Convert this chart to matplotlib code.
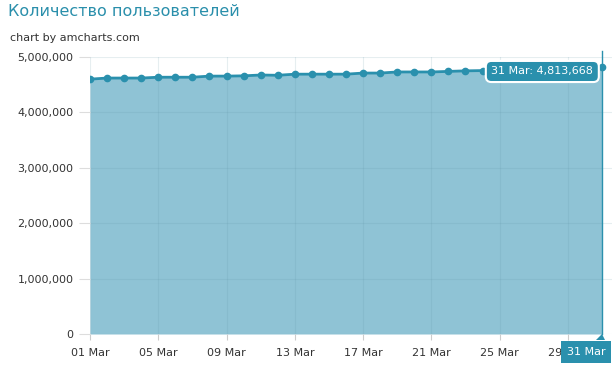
import numpy as np
import pandas as pd
import matplotlib
matplotlib.use("Agg")
import matplotlib.pyplot as plt
import matplotlib.dates as mdates
from matplotlib.patches import Polygon
from matplotlib.ticker import FuncFormatter, MultipleLocator

TITLE = "Количество пользователей"
CREDIT = "chart by amcharts.com"
dates = pd.date_range("2014-03-01", "2014-03-31", freq="D")
users = [4600000, 4620000, 4620000, 4620000, 4635000, 4635000, 4635000, 4655000,
         4655000, 4660000, 4675000, 4670000, 4690000, 4690000, 4690000, 4690000,
         4710000, 4710000, 4730000, 4730000, 4730000, 4740000, 4750000, 4755000,
         4765000, 4775000, 4785000, 4790000, 4800000, 4805000, 4813668]
tick_days = dates[::4]

LINE = "#2a90ad"
FILL = "#8fc3d5"
TXT = "#333333"

fig = plt.figure(figsize=(6.13, 3.65), dpi=100)
ax = fig.add_axes([90 / 613, 1 - 334 / 365, 522 / 613, 277 / 365])

ax.fill_between(dates, users, 0, color=FILL, lw=0, zorder=1)
ax.plot(dates, users, "-o", color=LINE, lw=2, ms=4.5, zorder=4)

ax.set_xlim(dates[0], dates[-1] + pd.Timedelta(hours=14))
ax.set_ylim(0, 5000000)
ax.yaxis.set_major_locator(MultipleLocator(1000000))
ax.yaxis.set_major_formatter(FuncFormatter(lambda v, p: f"{int(v):,}"))
ax.set_xticks(tick_days)
ax.xaxis.set_major_formatter(mdates.DateFormatter("%d Mar"))

for s in ax.spines.values():
    s.set_visible(False)
ax.tick_params(axis="y", length=8, color="#dddddd", labelsize=8, labelcolor=TXT, pad=4)
ax.tick_params(axis="x", length=4, color="#cccccc", labelsize=8, labelcolor=TXT, pad=6)
ax.grid(True, color="#5a8fa0", alpha=0.15, lw=0.8, zorder=2)
ax.set_axisbelow(False)
for gl in ax.get_xgridlines() + ax.get_ygridlines():
    gl.set_zorder(2)

# cursor line + balloons
ax.axvline(dates[-1], color=LINE, lw=1, zorder=3, ymax=1.02, clip_on=False)
ax.annotate(f"31 Mar: {users[-1]:,}", xy=(dates[-1], users[-1]), xytext=(-43, -3),
            textcoords="offset points", ha="center", va="center", color="white",
            fontsize=8, zorder=6,
            bbox=dict(boxstyle="round,pad=0.5,rounding_size=0.5", fc=LINE, ec="white", lw=1.5))
W, H = 613, 365
fig.patches.append(Polygon([(596 / W, 1 - 340 / H), (602 / W, 1 - 334 / H), (605 / W, 1 - 340 / H)],
                           closed=True, transform=fig.transFigure, fc=LINE, ec="none", zorder=5))
fig.text(586 / W, 1 - 352 / H, "31 Mar", ha="center", va="center", color="white",
         fontsize=8, zorder=6, bbox=dict(boxstyle="square,pad=0.55", fc=LINE, ec="none"))

fig.text(8 / W, 1 - 12 / H, TITLE, ha="left", va="center", color="#2a8fab", fontsize=11.5)
fig.text(10 / W, 1 - 38 / H, CREDIT, ha="left", va="center", color=TXT, fontsize=8)

fig.savefig("out.png", dpi=100)
